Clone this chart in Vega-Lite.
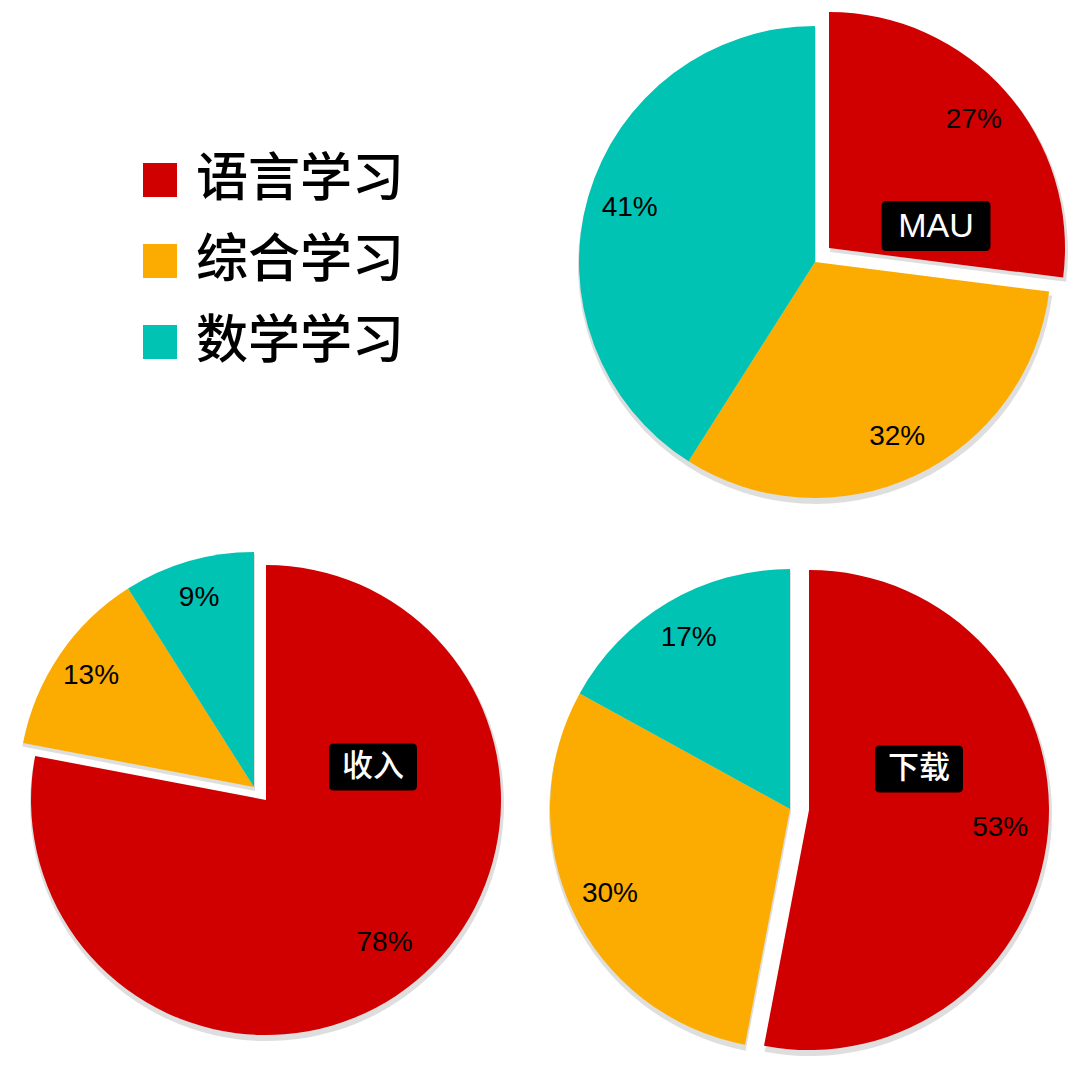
{
  "$schema": "https://vega.github.io/schema/vega-lite/v6.json",
  "padding": 0,
  "background": "white",
  "spacing": 16,
  "config": {
    "view": {"stroke": null},
    "legend": {
      "orient": "none", "legendX": 134, "legendY": 154, "padding": 0,
      "symbolType": "square", "symbolSize": 1156, "symbolStrokeWidth": 0, "symbolOpacity": 1,
      "labelFont": "Noto Sans CJK SC", "labelFontSize": 52, "labelFontWeight": 500, "labelColor": "#000000",
      "labelOffset": 10, "rowPadding": 29, "labelLimit": 400
    }
  },
  "data": {"values": [
    {"chart": "MAU", "category": "语言学习", "share": 0.27},
    {"chart": "MAU", "category": "综合学习", "share": 0.32},
    {"chart": "MAU", "category": "数学学习", "share": 0.41},
    {"chart": "收入", "category": "语言学习", "share": 0.78},
    {"chart": "收入", "category": "综合学习", "share": 0.13},
    {"chart": "收入", "category": "数学学习", "share": 0.09},
    {"chart": "下载", "category": "语言学习", "share": 0.53},
    {"chart": "下载", "category": "综合学习", "share": 0.30},
    {"chart": "下载", "category": "数学学习", "share": 0.17}
  ]},
  "vconcat": [
    {
      "bounds": "flush",
      "spacing": 20,
      "hconcat": [
        {"width": 550, "height": 524, "data": {"values": []}, "mark": "point"},
        {
          "width": 490, "height": 524,
          "transform": [{"filter": "datum.chart === 'MAU'"}],
          "layer": [
            {
              "mark": {"type": "arc", "radius": 238, "color": "#000000", "xOffset": 1, "yOffset": 4},
              "encoding": {
                "theta": {"field": "share", "type": "quantitative", "stack": true},
                "order": {"field": "category", "sort": "descending"},
                "opacity": {"condition": {"test": "datum.category === '语言学习'", "value": 0}, "value": 0.13}
              }
            },
            {
              "mark": {"type": "arc", "radius": 238, "color": "#000000", "xOffset": 15, "yOffset": -10},
              "encoding": {
                "theta": {"field": "share", "type": "quantitative", "stack": true},
                "order": {"field": "category", "sort": "descending"},
                "opacity": {"condition": {"test": "datum.category === '语言学习'", "value": 0.13}, "value": 0}
              }
            },
            {
              "mark": {"type": "arc", "radius": 236},
              "encoding": {
                "theta": {"field": "share", "type": "quantitative", "stack": true},
                "order": {"field": "category", "sort": "descending"},
                "color": {"field": "category", "type": "nominal", "title": null,
                  "scale": {"domain": ["语言学习", "综合学习", "数学学习"], "range": ["#d00000", "#fcab00", "#00c3b3"]}},
                "opacity": {"condition": {"test": "datum.category === '语言学习'", "value": 0}, "value": 1}
              }
            },
            {
              "mark": {"type": "arc", "radius": 236, "xOffset": 14, "yOffset": -14},
              "encoding": {
                "theta": {"field": "share", "type": "quantitative", "stack": true},
                "order": {"field": "category", "sort": "descending"},
                "color": {"field": "category", "type": "nominal", "title": null},
                "opacity": {"condition": {"test": "datum.category === '语言学习'", "value": 1}, "value": 0}
              }
            },
            {
              "mark": {"type": "text", "radius": 193, "fontSize": 28, "font": "Liberation Sans", "color": "#000000"},
              "encoding": {
                "theta": {"field": "share", "type": "quantitative", "stack": true},
                "order": {"field": "category", "sort": "descending"},
                "text": {"field": "share", "format": ".0%"},
                "opacity": {"condition": {"test": "datum.category === '语言学习'", "value": 0}, "value": 1}
              }
            },
            {
              "mark": {"type": "text", "radius": 193, "fontSize": 28, "font": "Liberation Sans", "color": "#000000", "xOffset": 14, "yOffset": -14},
              "encoding": {
                "theta": {"field": "share", "type": "quantitative", "stack": true},
                "order": {"field": "category", "sort": "descending"},
                "text": {"field": "share", "format": ".0%"},
                "opacity": {"condition": {"test": "datum.category === '语言学习'", "value": 1}, "value": 0}
              }
            },
            {
              "transform": [{"filter": "datum.category === '语言学习'"}],
              "mark": {"type": "point", "filled": true, "color": "#000000", "opacity": 1, "strokeWidth": 0,
                "size": 11881, "xOffset": 121, "yOffset": -36,
                "shape": "M-0.908,-0.459L0.908,-0.459Q1,-0.459 1,-0.367L1,0.367Q1,0.459 0.908,0.459L-0.908,0.459Q-1,0.459 -1,0.367L-1,-0.367Q-1,-0.459 -0.908,-0.459Z"},
              "encoding": {}
            },
            {
              "transform": [{"filter": "datum.category === '语言学习'"}],
              "mark": {"type": "text", "color": "#ffffff", "fontSize": 34, "font": "Liberation Sans", "xOffset": 121, "yOffset": -35},
              "encoding": {"text": {"field": "chart"}}
            }
          ]
        }
      ]
    },
    {
      "bounds": "flush",
      "spacing": 20,
      "hconcat": [
        {
          "width": 508, "height": 494,
          "transform": [{"filter": "datum.chart === '收入'"}],
          "layer": [
            {
              "mark": {"type": "arc", "radius": 237, "color": "#000000", "xOffset": 1, "yOffset": 4},
              "encoding": {
                "theta": {"field": "share", "type": "quantitative", "stack": true},
                "order": {"field": "category", "sort": "descending"},
                "opacity": {"condition": {"test": "datum.category === '语言学习'", "value": 0}, "value": 0.13}
              }
            },
            {
              "mark": {"type": "arc", "radius": 237, "color": "#000000", "xOffset": 13, "yOffset": 17},
              "encoding": {
                "theta": {"field": "share", "type": "quantitative", "stack": true},
                "order": {"field": "category", "sort": "descending"},
                "opacity": {"condition": {"test": "datum.category === '语言学习'", "value": 0.13}, "value": 0}
              }
            },
            {
              "mark": {"type": "arc", "radius": 235},
              "encoding": {
                "theta": {"field": "share", "type": "quantitative", "stack": true},
                "order": {"field": "category", "sort": "descending"},
                "color": {"field": "category", "type": "nominal", "title": null},
                "opacity": {"condition": {"test": "datum.category === '语言学习'", "value": 0}, "value": 1}
              }
            },
            {
              "mark": {"type": "arc", "radius": 235, "xOffset": 12, "yOffset": 13},
              "encoding": {
                "theta": {"field": "share", "type": "quantitative", "stack": true},
                "order": {"field": "category", "sort": "descending"},
                "color": {"field": "category", "type": "nominal", "title": null},
                "opacity": {"condition": {"test": "datum.category === '语言学习'", "value": 1}, "value": 0}
              }
            },
            {
              "mark": {"type": "text", "radius": 197, "fontSize": 28, "font": "Liberation Sans", "color": "#000000"},
              "encoding": {
                "theta": {"field": "share", "type": "quantitative", "stack": true},
                "order": {"field": "category", "sort": "descending"},
                "text": {"field": "share", "format": ".0%"},
                "opacity": {"condition": {"test": "datum.category === '语言学习'", "value": 0}, "value": 1}
              }
            },
            {
              "mark": {"type": "text", "radius": 186, "fontSize": 28, "font": "Liberation Sans", "color": "#000000", "xOffset": 12, "yOffset": 13},
              "encoding": {
                "theta": {"field": "share", "type": "quantitative", "stack": true},
                "order": {"field": "category", "sort": "descending"},
                "text": {"field": "share", "format": ".0%"},
                "opacity": {"condition": {"test": "datum.category === '语言学习'", "value": 1}, "value": 0}
              }
            },
            {
              "transform": [{"filter": "datum.category === '语言学习'"}],
              "mark": {"type": "point", "filled": true, "color": "#000000", "opacity": 1, "strokeWidth": 0,
                "size": 7744, "xOffset": 119, "yOffset": -20,
                "shape": "M-0.886,-0.534L0.886,-0.534Q1,-0.534 1,-0.42L1,0.42Q1,0.534 0.886,0.534L-0.886,0.534Q-1,0.534 -1,0.42L-1,-0.42Q-1,-0.534 -0.886,-0.534Z"},
              "encoding": {}
            },
            {
              "transform": [{"filter": "datum.category === '语言学习'"}],
              "mark": {"type": "text", "color": "#ffffff", "fontSize": 31, "font": "Noto Sans CJK SC", "fontWeight": 500, "xOffset": 119, "yOffset": -20},
              "encoding": {"text": {"field": "chart"}}
            }
          ]
        },
        {
          "width": 524, "height": 538,
          "transform": [{"filter": "datum.chart === '下载'"}],
          "layer": [
            {
              "mark": {"type": "arc", "radius": 242, "color": "#000000", "xOffset": 1, "yOffset": 4},
              "encoding": {
                "theta": {"field": "share", "type": "quantitative", "stack": true},
                "order": {"field": "category", "sort": "descending"},
                "opacity": {"condition": {"test": "datum.category === '语言学习'", "value": 0}, "value": 0.13}
              }
            },
            {
              "mark": {"type": "arc", "radius": 242, "color": "#000000", "xOffset": 20, "yOffset": 5},
              "encoding": {
                "theta": {"field": "share", "type": "quantitative", "stack": true},
                "order": {"field": "category", "sort": "descending"},
                "opacity": {"condition": {"test": "datum.category === '语言学习'", "value": 0.13}, "value": 0}
              }
            },
            {
              "mark": {"type": "arc", "radius": 240},
              "encoding": {
                "theta": {"field": "share", "type": "quantitative", "stack": true},
                "order": {"field": "category", "sort": "descending"},
                "color": {"field": "category", "type": "nominal", "title": null},
                "opacity": {"condition": {"test": "datum.category === '语言学习'", "value": 0}, "value": 1}
              }
            },
            {
              "mark": {"type": "arc", "radius": 240, "xOffset": 19, "yOffset": 1},
              "encoding": {
                "theta": {"field": "share", "type": "quantitative", "stack": true},
                "order": {"field": "category", "sort": "descending"},
                "color": {"field": "category", "type": "nominal", "title": null},
                "opacity": {"condition": {"test": "datum.category === '语言学习'", "value": 1}, "value": 0}
              }
            },
            {
              "mark": {"type": "text", "radius": 199, "fontSize": 28, "font": "Liberation Sans", "color": "#000000"},
              "encoding": {
                "theta": {"field": "share", "type": "quantitative", "stack": true},
                "order": {"field": "category", "sort": "descending"},
                "text": {"field": "share", "format": ".0%"},
                "opacity": {"condition": {"test": "datum.category === '语言学习'", "value": 0}, "value": 1}
              }
            },
            {
              "mark": {"type": "text", "radius": 192, "fontSize": 28, "font": "Liberation Sans", "color": "#000000", "xOffset": 19, "yOffset": 1},
              "encoding": {
                "theta": {"field": "share", "type": "quantitative", "stack": true},
                "order": {"field": "category", "sort": "descending"},
                "text": {"field": "share", "format": ".0%"},
                "opacity": {"condition": {"test": "datum.category === '语言学习'", "value": 1}, "value": 0}
              }
            },
            {
              "transform": [{"filter": "datum.category === '语言学习'"}],
              "mark": {"type": "point", "filled": true, "color": "#000000", "opacity": 1, "strokeWidth": 0,
                "size": 7744, "xOffset": 129, "yOffset": -40,
                "shape": "M-0.886,-0.534L0.886,-0.534Q1,-0.534 1,-0.42L1,0.42Q1,0.534 0.886,0.534L-0.886,0.534Q-1,0.534 -1,0.42L-1,-0.42Q-1,-0.534 -0.886,-0.534Z"},
              "encoding": {}
            },
            {
              "transform": [{"filter": "datum.category === '语言学习'"}],
              "mark": {"type": "text", "color": "#ffffff", "fontSize": 31, "font": "Noto Sans CJK SC", "fontWeight": 500, "xOffset": 129, "yOffset": -40},
              "encoding": {"text": {"field": "chart"}}
            }
          ]
        }
      ]
    }
  ]
}
